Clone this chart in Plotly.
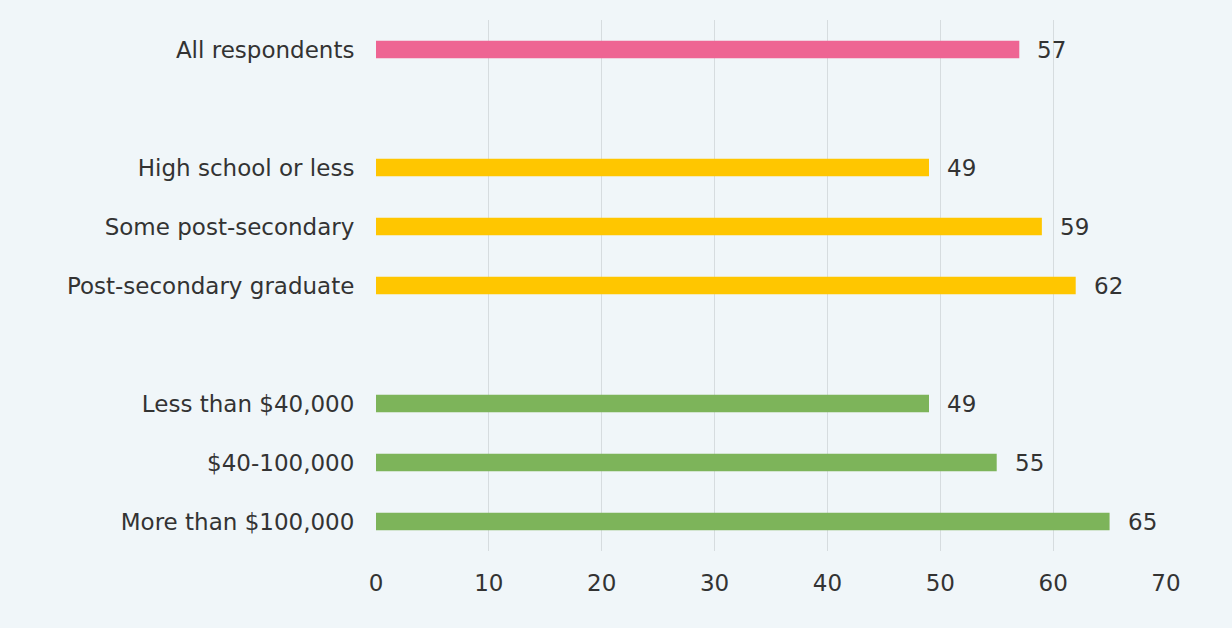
import plotly.graph_objects as go

# Survey shares by group (percent), with blank spacer rows between groups
categories = [
    "All respondents",
    " ",
    "High school or less",
    "Some post-secondary",
    "Post-secondary graduate",
    "  ",
    "Less than $40,000",
    "$40-100,000",
    "More than $100,000",
]
values = [57, None, 49, 59, 62, None, 49, 55, 65]
group = ["all", None, "edu", "edu", "edu", None, "inc", "inc", "inc"]

palette = {"all": "#EE6593", "edu": "#FFC600", "inc": "#7DB45A"}
bar_colors = [palette.get(g, "rgba(0,0,0,0)") for g in group]

x_ticks = [0, 10, 20, 30, 40, 50, 60, 70]

font_family = "'DejaVu Sans', sans-serif"
font_size = 23
text_color = "#333333"
bg = "#F0F6F9"

fig = go.Figure()
fig.add_trace(
    go.Bar(
        x=values,
        y=categories,
        orientation="h",
        marker=dict(color=bar_colors, line=dict(width=0)),
        width=0.3,
        hoverinfo="skip",
    )
)

# Value labels just past the end of each bar
for cat, v in zip(categories, values):
    if v is None:
        continue
    fig.add_annotation(
        x=v, y=cat, text=str(v), showarrow=False,
        xanchor="left", xshift=16,
        font=dict(family=font_family, size=font_size, color=text_color),
    )

fig.update_layout(
    width=1232,
    height=628,
    margin=dict(l=376, r=66, t=20, b=77),
    paper_bgcolor=bg,
    plot_bgcolor=bg,
    showlegend=False,
    font=dict(family=font_family, size=font_size, color=text_color),
)
fig.update_xaxes(
    range=[0, 70],
    tickvals=x_ticks,
    showgrid=True,
    gridcolor="#D6DCDF",
    gridwidth=1,
    zeroline=False,
    showline=False,
    ticks="outside",
    ticklen=11,
    tickcolor="rgba(0,0,0,0)",
    tickfont=dict(family=font_family, size=font_size, color=text_color),
)
fig.update_yaxes(
    categoryorder="array",
    categoryarray=categories,
    autorange="reversed",
    range=[8.5, -0.5],
    showgrid=False,
    zeroline=False,
    showline=False,
    ticks="outside",
    ticklen=16,
    tickcolor="rgba(0,0,0,0)",
    tickfont=dict(family=font_family, size=font_size, color=text_color),
)

fig.write_html("out.html")
